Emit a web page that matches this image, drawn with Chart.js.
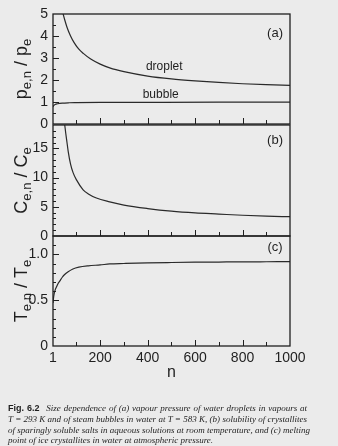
<!DOCTYPE html>
<html>
<head>
<meta charset="utf-8">
<script src="https://cdn.jsdelivr.net/npm/chart.js@4.4.1/dist/chart.umd.min.js"></script>
<style>
  html, body { margin: 0; padding: 0; background: #ebebeb; }
  #page { position: relative; width: 338px; height: 446px; overflow: hidden; }
  .panel { position: absolute; left: 0; width: 338px; }
  #caption {
    position: absolute; left: 8px; top: 403px; width: 299px;
    font: italic 9px "Liberation Serif", serif; line-height: 10.8px;
    color: #1e1e1e; white-space: nowrap; will-change: transform;
  }
  #caption div { text-align: justify; text-align-last: justify; }
  #caption div.last { text-align-last: left; }
  #caption b { font: bold 9px "Liberation Sans", sans-serif; margin-right: 4px; }
</style>
</head>
<body>
<div id="page">
  <div class="panel" style="top:0px;height:140px"><canvas id="chartA"></canvas></div>
  <div class="panel" style="top:109px;height:143px"><canvas id="chartB"></canvas></div>
  <div class="panel" style="top:220px;height:166px"><canvas id="chartC"></canvas></div>
  <div id="caption">
    <div><b>Fig. 6.2</b> Size dependence of (a) vapour pressure of water droplets in vapours at</div>
    <div>T = 293 K and of steam bubbles in water at T = 583 K, (b) solubility of crystallites</div>
    <div>of sparingly soluble salts in aqueous solutions at room temperature, and (c) melting</div>
    <div class="last">point of ice crystallites in water at atmospheric pressure.</div>
  </div>
</div>
<script>
// x axis (cluster size n)
const nTicks = [1, 200, 400, 600, 800, 1000];
const nMinorTicks = [100, 200, 300, 400, 500, 600, 700, 800, 900];

// (a) vapour pressure ratio
const dropletN = [40, 50, 60, 75, 90, 110, 130, 160, 200, 240, 300, 400, 500, 600, 700, 800, 900, 1000];
const dropletP = [5.15, 4.75, 4.4, 4.0, 3.7, 3.4, 3.2, 2.95, 2.72, 2.55, 2.38, 2.18, 2.05, 1.96, 1.89, 1.83, 1.79, 1.76];
const bubbleN = [1, 5, 10, 20, 40, 70, 100, 200, 400, 700, 1000];
const bubbleP = [0.78, 0.85, 0.89, 0.92, 0.95, 0.965, 0.97, 0.98, 0.985, 0.99, 0.99];
const aTicks = [0, 1, 2, 3, 4, 5];

// (b) solubility ratio
const solN = [49, 55, 60, 65, 75, 86, 100, 128, 150, 184, 240, 300, 400, 500, 600, 700, 800, 900, 1000];
const solC = [19.5, 17.5, 16.0, 14.5, 12.3, 10.8, 9.6, 7.9, 7.2, 6.5, 5.85, 5.3, 4.7, 4.25, 3.95, 3.75, 3.55, 3.4, 3.3];
const bTicks = [0, 5, 10, 15];

// (c) melting point ratio
const meltN = [1, 3, 6, 10, 15, 22, 30, 40, 50, 65, 85, 110, 150, 200, 240, 300, 400, 500, 600, 700, 800, 900, 1000];
const meltT = [0.47, 0.52, 0.57, 0.61, 0.64, 0.68, 0.71, 0.75, 0.78, 0.81, 0.84, 0.86, 0.875, 0.885, 0.895, 0.9, 0.907, 0.911, 0.914, 0.916, 0.918, 0.919, 0.92];
const cTicks = [0, 0.5, 1.0];
const cTickLabels = ['0', '0.5', '1.0'];

const ink = '#1f1f1f';
const tickFont = { family: 'Liberation Sans', size: 14 };

function pts(xs, ys) {
  return xs.map((x, i) => ({ x: x, y: ys[i] }));
}

// frame, inward ticks, rotated y title with subscripts and the small notes
const panelDecor = {
  id: 'panelDecor',
  afterDatasetsDraw(chart, args, opts) {
    const { ctx, chartArea: a, scales } = chart;
    ctx.save();
    ctx.strokeStyle = ink;
    ctx.lineWidth = 1.3;
    ctx.strokeRect(a.left, a.top, a.right - a.left, a.bottom - a.top);

    ctx.lineWidth = 1;
    ctx.beginPath();
    nMinorTicks.forEach(v => {
      const x = Math.round(scales.x.getPixelForValue(v)) + 0.5;
      const len = v % 200 === 0 ? 6 : 4;
      ctx.moveTo(x, a.bottom);
      ctx.lineTo(x, a.bottom - len);
    });
    const ys = scales.y;
    for (let v = opts.minor; v < ys.max - 1e-6; v += opts.minor) {
      const y = Math.round(ys.getPixelForValue(v)) + 0.5;
      const major = Math.abs(v / opts.major - Math.round(v / opts.major)) < 1e-6;
      ctx.moveTo(a.left, y);
      ctx.lineTo(a.left + (major ? 6 : 3), y);
    }
    ctx.stroke();

    // y axis title
    const cy = (a.top + a.bottom) / 2;
    ctx.translate(0, cy);
    ctx.rotate(-Math.PI / 2);
    ctx.fillStyle = ink;
    ctx.textBaseline = 'alphabetic';
    ctx.textAlign = 'left';
    const big = '18px "Liberation Sans"', small = '13px "Liberation Sans"';
    let total = 0;
    opts.title.forEach(p => { ctx.font = p[1] ? small : big; total += ctx.measureText(p[0]).width; });
    let x = -total / 2;
    opts.title.forEach(p => {
      ctx.font = p[1] ? small : big;
      ctx.fillText(p[0], x, p[1] ? 31 : 27);
      x += ctx.measureText(p[0]).width;
    });
    ctx.setTransform(1, 0, 0, 1, 0, 0);

    // notes inside panel
    ctx.textAlign = 'center';
    ctx.textBaseline = 'middle';
    opts.notes.forEach(t => {
      ctx.font = t[3] + 'px "Liberation Sans"';
      ctx.fillText(t[0], scales.x.getPixelForValue(t[1]), ys.getPixelForValue(t[2]));
    });
    ctx.restore();
  }
};

function yAxis(max, values, labels) {
  return {
    min: 0, max: max,
    grid: { display: false, drawTicks: false },
    border: { display: false },
    afterBuildTicks: s => { s.ticks = values.map(v => ({ value: v })); },
    afterFit: s => { s.width = 53; },
    ticks: {
      color: ink, font: tickFont, padding: 5, autoSkip: false,
      callback: (v, i) => labels ? labels[i] : String(v)
    }
  };
}

function xAxis(show) {
  return {
    type: 'linear', min: 1, max: 1000,
    display: show,
    grid: { display: false, drawTicks: false },
    border: { display: false },
    afterBuildTicks: s => { s.ticks = nTicks.map(v => ({ value: v })); },
    afterFit: s => { if (show) s.height = 40; },
    ticks: {
      color: ink, font: tickFont, padding: 4, autoSkip: false, maxRotation: 0,
      callback: v => String(v)
    },
    title: {
      display: show, text: 'n', color: ink,
      font: { family: 'Liberation Sans', size: 16 },
      padding: { top: 0, bottom: 4 }
    }
  };
}

function lineSet(data) {
  return {
    data: data, borderColor: '#2a2a2a', borderWidth: 1.2,
    pointRadius: 0, fill: false, cubicInterpolationMode: 'monotone'
  };
}

function makeChart(id, datasets, yScale, decor, padding) {
  return new Chart(document.getElementById(id), {
    type: 'line',
    data: { datasets: datasets },
    options: {
      animation: false,
      responsive: true,
      maintainAspectRatio: false,
      layout: { padding: padding },
      scales: { x: xAxis(padding.bottom === 0), y: yScale },
      plugins: { legend: { display: false }, tooltip: { enabled: false }, panelDecor: decor }
    },
    plugins: [panelDecor]
  });
}

makeChart('chartA',
  [lineSet(pts(dropletN, dropletP)), lineSet(pts(bubbleN, bubbleP))],
  yAxis(5, aTicks),
  {
    minor: 0.5, major: 1,
    title: [['p', 0], ['e,n', 1], [' / ', 0], ['p', 0], ['e', 1]],
    notes: [['(a)', 937, 4.1, 13], ['droplet', 470, 2.62, 12], ['bubble', 455, 1.32, 12]]
  },
  { top: 14, bottom: 16, left: 0, right: 48 });

makeChart('chartB',
  [lineSet(pts(solN, solC))],
  yAxis(19, bTicks),
  {
    minor: 1, major: 5,
    title: [['C', 0], ['e,n', 1], [' / ', 0], ['C', 0], ['e', 1]],
    notes: [['(b)', 937, 16.4, 13]]
  },
  { top: 16, bottom: 16, left: 0, right: 48 });

makeChart('chartC',
  [lineSet(pts(meltN, meltT))],
  yAxis(1.2, cTicks, cTickLabels),
  {
    minor: 0.1, major: 0.5,
    title: [['T', 0], ['e,n', 1], [' / ', 0], ['T', 0], ['e', 1]],
    notes: [['(c)', 937, 1.07, 13]]
  },
  { top: 16, bottom: 0, left: 0, right: 48 });
</script>
</body>
</html>
